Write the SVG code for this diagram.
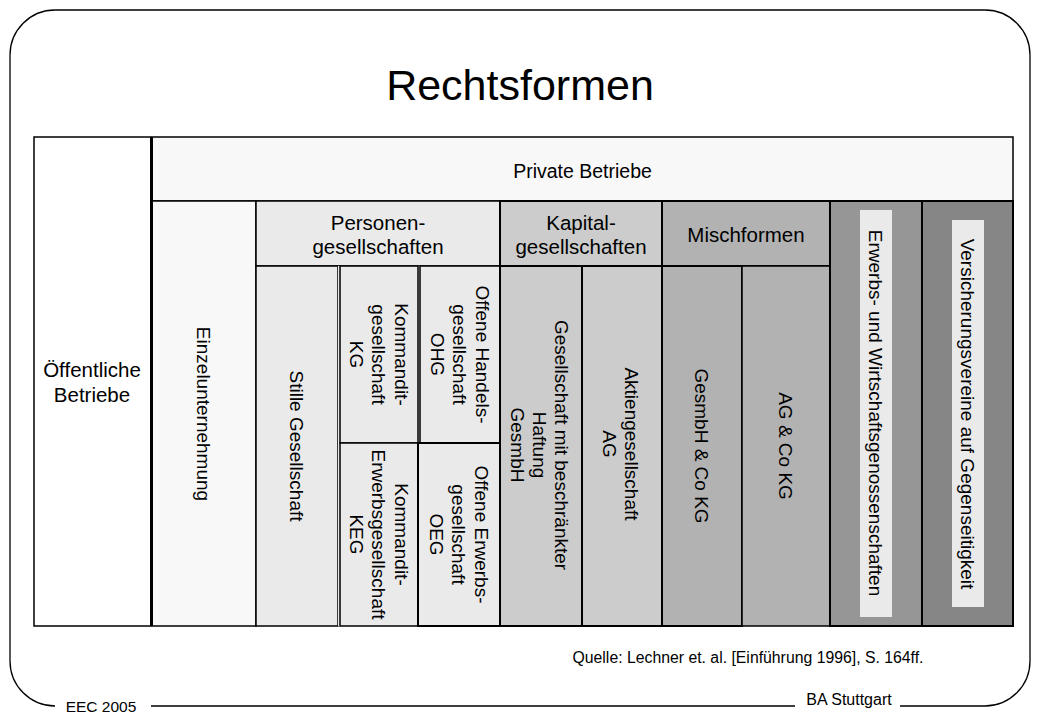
<svg xmlns="http://www.w3.org/2000/svg" width="1040" height="720" viewBox="0 0 1040 720">
<style>
text{font-family:"Liberation Sans",Arial,sans-serif;fill:#000}
.h{font-size:20.5px;text-anchor:middle}
.v{font-size:19px;text-anchor:middle}
.c{stroke:#000;stroke-width:1.5}
.t{stroke:#000;stroke-width:2}
.lab{fill:#EAEAEA;stroke:none}
.frame{fill:none;stroke:#000;stroke-width:1.3}
</style>
<rect width="1040" height="720" fill="#fff"/>
<g id="frame">
<path class="frame" d="M151,706 H795 M900,706 H985 A45,45 0 0 0 1030,661 V55 A45,45 0 0 0 985,10 H55 A45,45 0 0 0 10,55 V661 A45,45 0 0 0 55,706"/>
</g>
<text id="title" x="520" y="100" style="font-size:43px;text-anchor:middle">Rechtsformen</text>
<g id="oeffentliche">
<rect class="c" x="34" y="137" width="117" height="489" fill="#FFFFFF"/>
<text class="h" x="92"><tspan x="92" y="377">Öffentliche</tspan><tspan x="92" y="402">Betriebe</tspan></text>
</g>
<g id="private">
<rect class="c" x="152" y="137" width="861" height="64" fill="#F8F8F8"/>
<text class="h" x="582.5" y="178" style="font-size:19.5px">Private Betriebe</text>
</g>
<g id="einzel">
<rect class="c" x="152" y="201" width="104" height="425" fill="#F8F8F8"/>
<text class="v" transform="translate(204,414) rotate(90)" y="6.8">Einzelunternehmung</text>
</g>
<g id="personen">
<rect class="c" x="256" y="201" width="244" height="65" fill="#EAEAEA"/>
<text class="h"><tspan x="378" y="229.5">Personen-</tspan><tspan x="378" y="254">gesellschaften</tspan></text>
</g>
<g id="stille">
<rect class="c" x="256" y="266" width="82" height="360" fill="#EAEAEA"/>
<text class="v" transform="translate(297,446) rotate(90)" y="6.8">Stille Gesellschaft</text>
</g>
<rect x="338" y="266" width="162" height="360" fill="#EAEAEA"/>
<g id="kg">
<rect class="c" x="340" y="266" width="78" height="177" fill="#EAEAEA"/>
<text class="v" transform="translate(379,354.5) rotate(90)"><tspan x="0" y="-15.7">Kommandit-</tspan><tspan x="0" y="6.8">gesellschaft</tspan><tspan x="0" y="29.3">KG</tspan></text>
</g>
<g id="ohg">
<rect class="c" x="420" y="266" width="80" height="177" fill="#EAEAEA"/>
<text class="v" transform="translate(460,354.5) rotate(90)"><tspan x="0" y="-15.7">Offene Handels-</tspan><tspan x="0" y="6.8">gesellschaft</tspan><tspan x="0" y="29.3">OHG</tspan></text>
</g>
<g id="keg">
<rect class="c" x="340" y="443" width="78" height="183" fill="#EAEAEA"/>
<text class="v" transform="translate(379,534.5) rotate(90)"><tspan x="0" y="-15.7">Kommandit-</tspan><tspan x="0" y="6.8">Erwerbsgesellschaft</tspan><tspan x="0" y="29.3">KEG</tspan></text>
</g>
<g id="oeg">
<rect class="t" x="418" y="443" width="82" height="183" fill="#EAEAEA"/>
<text class="v" transform="translate(459,534.5) rotate(90)"><tspan x="0" y="-15.7">Offene Erwerbs-</tspan><tspan x="0" y="6.8">gesellschaft</tspan><tspan x="0" y="29.3">OEG</tspan></text>
</g>
<g id="kapital">
<rect class="t" x="500" y="201" width="162" height="65" fill="#CCCCCC"/>
<text class="h"><tspan x="581" y="229.5">Kapital-</tspan><tspan x="581" y="254">gesellschaften</tspan></text>
</g>
<g id="gmbh">
<rect class="t" x="500" y="266" width="82" height="360" fill="#CCCCCC"/>
<text class="v" transform="translate(540,445) rotate(90)"><tspan x="0" y="-15.2">Gesellschaft mit beschränkter</tspan><tspan x="0" y="6.8">Haftung</tspan><tspan x="0" y="28.8">GesmbH</tspan></text>
</g>
<g id="ag">
<rect class="t" x="582" y="266" width="80" height="360" fill="#CCCCCC"/>
<text class="v" transform="translate(621,444) rotate(90)"><tspan x="0" y="-4.4">Aktiengesellschaft</tspan><tspan x="0" y="18">AG</tspan></text>
</g>
<g id="mischformen">
<rect class="t" x="662" y="201" width="168" height="65" fill="#B2B2B2"/>
<text class="h" x="746" y="242">Mischformen</text>
</g>
<g id="gesmbh-co-kg">
<rect class="t" x="662" y="266" width="80" height="360" fill="#B2B2B2"/>
<text class="v" transform="translate(702,446) rotate(90)" y="6.8">GesmbH &amp; Co KG</text>
</g>
<g id="ag-co-kg">
<rect class="c" x="742" y="266" width="88" height="360" fill="#B2B2B2"/>
<text class="v" transform="translate(786,446) rotate(90)" y="6.8">AG &amp; Co KG</text>
</g>
<g id="erwerbs">
<rect class="t" x="830" y="201" width="92" height="425" fill="#969696"/>
<rect class="lab" x="860" y="210" width="32" height="407"/>
<text class="v" transform="translate(876,413) rotate(90)" y="6.8">Erwerbs- und Wirtschaftsgenossenschaften</text>
</g>
<g id="versicherung">
<rect class="t" x="922" y="201" width="91" height="425" fill="#868686"/>
<rect class="lab" x="952" y="220" width="32" height="387"/>
<text class="v" transform="translate(968,414) rotate(90)" y="6.8">Versicherungsvereine auf Gegenseitigkeit</text>
</g>
<line x1="151.5" y1="137" x2="151.5" y2="626" stroke="#000" stroke-width="3"/>
<g id="connectors"></g>
<text id="quelle" x="748" y="663" style="font-size:15.8px;text-anchor:middle">Quelle: Lechner et. al. [Einführung 1996], S. 164ff.</text>
<text id="eec" x="101" y="712" style="font-size:15.5px;text-anchor:middle">EEC 2005</text>
<text id="ba" x="849" y="705" style="font-size:16px;text-anchor:middle">BA Stuttgart</text>
</svg>
